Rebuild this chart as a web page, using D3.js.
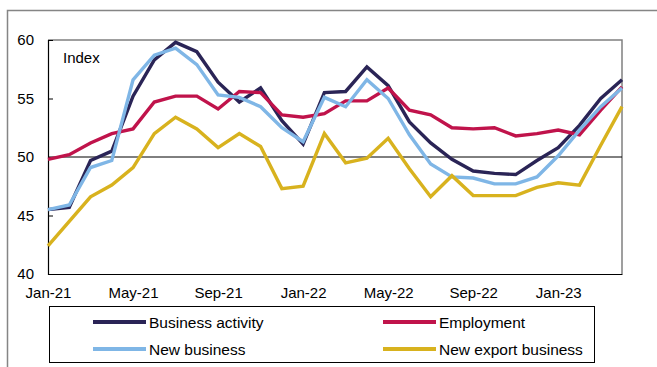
<!DOCTYPE html>
<html><head><meta charset="utf-8">
<script src="https://cdn.jsdelivr.net/npm/d3@7"></script>
<style>html,body{margin:0;padding:0;background:#fff}svg{display:block;font-family:"Liberation Sans",Arial,sans-serif}</style>
</head><body><svg id="c" width="657" height="367"></svg>
<script>
const months = ["Jan-21","Feb-21","Mar-21","Apr-21","May-21","Jun-21","Jul-21","Aug-21","Sep-21","Oct-21","Nov-21","Dec-21",
"Jan-22","Feb-22","Mar-22","Apr-22","May-22","Jun-22","Jul-22","Aug-22","Sep-22","Oct-22","Nov-22","Dec-22",
"Jan-23","Feb-23","Mar-23","Apr-23"];
const tickLabels = ["Jan-21","May-21","Sep-21","Jan-22","May-22","Sep-22","Jan-23"];
const yTicks = [40,45,50,55,60];
const businessActivity = [45.5,45.7,49.7,50.5,55.2,58.3,59.8,59.0,56.4,54.7,55.9,53.1,51.1,55.5,55.6,57.7,56.1,53.0,51.2,49.8,48.8,48.6,48.5,49.7,50.8,52.7,55.0,56.6];
const employment = [49.8,50.2,51.2,52.0,52.4,54.7,55.2,55.2,54.1,55.6,55.5,53.6,53.4,53.7,54.8,54.8,55.9,54.0,53.6,52.5,52.4,52.5,51.8,52.0,52.3,51.9,54.0,56.0];
const newBusiness = [45.5,45.9,49.1,49.7,56.6,58.7,59.3,57.9,55.3,55.1,54.3,52.5,51.3,55.1,54.3,56.6,55.0,51.9,49.4,48.3,48.2,47.7,47.7,48.3,50.1,52.3,54.3,55.9];
const newExport = [42.4,44.5,46.6,47.6,49.1,52.0,53.4,52.4,50.8,52.0,50.9,47.3,47.5,52.0,49.5,49.9,51.6,49.0,46.6,48.4,46.7,46.7,46.7,47.4,47.8,47.6,51.0,54.3];
const seriesNames = ["Business activity","Employment","New business","New export business"];
const seriesColors = ["#2a2456","#c0134b","#7fb6e6","#d8b21e"];
const seriesData = [businessActivity, employment, newBusiness, newExport];

const svg = d3.select("#c");
const L=48, R=622, T=40, B=274;
const x = d3.scalePoint().domain(months).range([L,R]);
const y = d3.scaleLinear().domain([40,60]).range([B,T]);

// outer frame
svg.append("path").attr("d","M7.5,367 V10.5 H657").attr("fill","none").attr("stroke","#858585").attr("stroke-width",1.5);

// plot frame top/right
svg.append("path").attr("d",`M${L},${T} H${R} V${B}`).attr("fill","none").attr("stroke","#808080").attr("stroke-width",1.5);

// 50 line
svg.append("line").attr("x1",L).attr("x2",R).attr("y1",y(50)).attr("y2",y(50)).attr("stroke","#000").attr("stroke-width",1);

// y axis
const ya = svg.append("g").attr("transform",`translate(${L},0)`)
  .call(d3.axisLeft(y).tickValues(yTicks).tickSize(-5).tickPadding(14).tickFormat(d3.format("d")));
ya.select(".domain").attr("stroke","#000").attr("stroke-width",1.2);
ya.selectAll(".tick line").attr("stroke","#000");
ya.selectAll("text").attr("font-size",15).attr("fill","#000").attr("font-family","Liberation Sans, Arial, sans-serif");

// x axis
const xa = svg.append("g").attr("transform",`translate(0,${B})`)
  .call(d3.axisBottom(x).tickValues(tickLabels).tickSize(0).tickPadding(13));
xa.select(".domain").attr("stroke","#000").attr("stroke-width",1.2);
xa.selectAll("text").attr("font-size",15).attr("fill","#000").attr("font-family","Liberation Sans, Arial, sans-serif");

// Index label
svg.append("text").attr("x",63).attr("y",63).attr("font-size",15).text("Index");

// lines
const line = d3.line().x((d,i)=>x(months[i])).y(d=>y(d));
seriesData.forEach((s,k)=>{
  svg.append("path").datum(s).attr("d",line).attr("fill","none")
    .attr("stroke",seriesColors[k]).attr("stroke-width",3.4).attr("stroke-linejoin","miter");
});

// legend
svg.append("rect").attr("x",49.5).attr("y",306.5).attr("width",545).attr("height",56)
  .attr("fill","#fff").attr("stroke","#000").attr("stroke-width",1);
const legPos = [[93,322],[383,322],[93,349],[383,349]];
seriesNames.forEach((n,k)=>{
  const [lx,ly] = legPos[k];
  svg.append("line").attr("x1",lx).attr("x2",lx+53).attr("y1",ly).attr("y2",ly)
    .attr("stroke",seriesColors[k]).attr("stroke-width",4);
  svg.append("text").attr("x",lx+56).attr("y",ly+5.5).attr("font-size",15.5).text(n);
});
</script></body></html>
